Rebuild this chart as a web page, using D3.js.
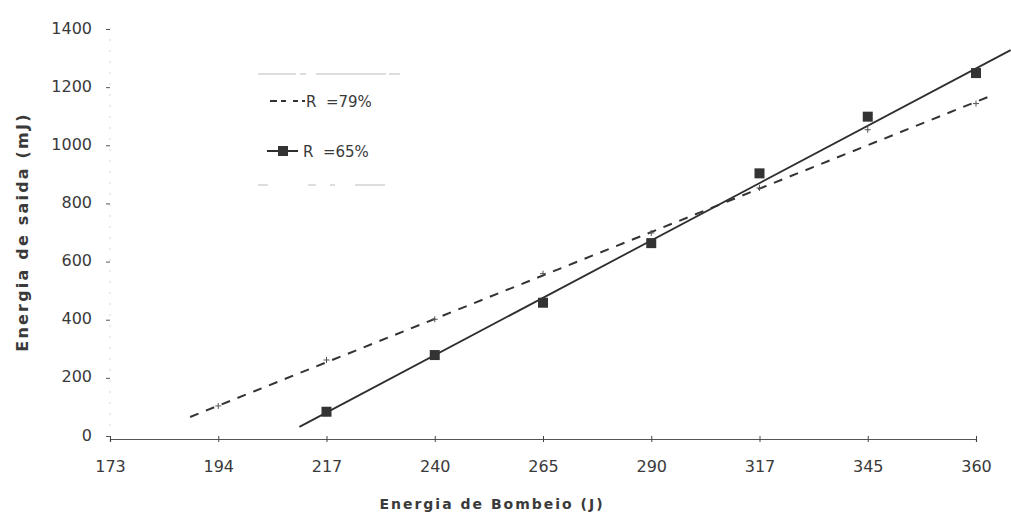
<!DOCTYPE html>
<html>
<head>
<meta charset="utf-8">
<script src="https://cdn.jsdelivr.net/npm/d3@7"></script>
<style>
  body { margin: 0; background: #fff; }
  text { font-family: "DejaVu Sans", sans-serif; fill: #3a3a3a; }
</style>
</head>
<body>
<div class="chart"></div>
<script>
// x categories (pump energy, J), evenly spaced on the axis
const bombeio = ['173', '194', '217', '240', '265', '290', '317', '345', '360'];
const yTicks = [0, 200, 400, 600, 800, 1000, 1200, 1400];

// measured points: [index into bombeio, output energy mJ]
const r65Points = [[2, 80], [3, 275], [4, 455], [5, 660], [6, 900], [7, 1095], [8, 1245]];
const r79Points = [[1, 100], [2, 258], [3, 398], [4, 555], [5, 695], [6, 850], [7, 1050], [8, 1140]];

// fitted lines, start and end as [index, mJ]
const r65Trend = [[1.75, 28], [8.32, 1324]];
const r79Trend = [[0.74, 62], [8.16, 1170]];

const width = 1011, height = 516;

const svg = d3.select('div.chart')
  .append('svg')
    .attr('width', width)
    .attr('height', height);

const x = d3.scaleLinear().domain([0, 8]).range([110, 976]);
const y = d3.scaleLinear().domain([0, 1400]).range([435, 28]);

// faint y axis line
svg.append('line')
  .attr('x1', x(0)).attr('x2', x(0))
  .attr('y1', y(1400)).attr('y2', y(0))
  .attr('stroke', '#d8d8d8')
  .attr('stroke-dasharray', '2,9');

const yAxis = d3.axisLeft(y)
  .tickValues(yTicks)
  .tickFormat(d3.format('d'))
  .tickSize(4)
  .tickPadding(14);

svg.append('g')
  .attr('class', 'y-axis')
  .attr('transform', 'translate(' + x(0) + ',0)')
  .call(yAxis)
  .call(g => g.select('.domain').remove())
  .call(g => g.selectAll('line').attr('stroke', '#555').attr('transform', 'translate(0,1)'))
  .call(g => g.selectAll('text')
    .attr('font-size', 16)
    .attr('font-family', '"DejaVu Sans", sans-serif')
    .attr('fill', '#3a3a3a'));

const xAxis = d3.axisBottom(x)
  .tickValues(d3.range(bombeio.length))
  .tickFormat(i => bombeio[i])
  .tickSize(3);

const xg = svg.append('g')
  .attr('class', 'x-axis')
  .attr('transform', 'translate(0,439)')
  .call(xAxis);

xg.select('.domain').attr('stroke', '#555').attr('stroke-width', 1.2);
xg.selectAll('.tick line').attr('y1', -3).attr('y2', 3).attr('stroke', '#444');
xg.selectAll('.tick text')
  .attr('y', 22)
  .attr('font-size', 16)
  .attr('font-family', '"DejaVu Sans", sans-serif')
  .attr('fill', '#3a3a3a');

const line = d3.line()
  .x(d => x(d[0]))
  .y(d => y(d[1]));

// R = 79% : dashed fit with small cross markers
svg.append('path')
  .attr('d', line(r79Trend))
  .attr('fill', 'none')
  .attr('stroke', '#333')
  .attr('stroke-width', 2)
  .attr('stroke-dasharray', '9,8');

svg.selectAll('path.r79-mark')
  .data(r79Points)
  .enter()
  .append('path')
    .attr('class', 'r79-mark')
    .attr('d', d => {
      const px = x(d[0]), py = y(d[1]);
      return 'M' + (px - 3) + ',' + py + 'H' + (px + 3) + 'M' + px + ',' + (py - 3) + 'V' + (py + 3);
    })
    .attr('stroke', '#555')
    .attr('stroke-width', 1);

// R = 65% : solid fit with square markers
svg.append('path')
  .attr('d', line(r65Trend))
  .attr('fill', 'none')
  .attr('stroke', '#2e2e2e')
  .attr('stroke-width', 1.8);

svg.selectAll('rect.r65-mark')
  .data(r65Points)
  .enter()
  .append('rect')
    .attr('class', 'r65-mark')
    .attr('x', d => x(d[0]) - 5)
    .attr('y', d => y(d[1]) - 5)
    .attr('width', 10)
    .attr('height', 10)
    .attr('fill', '#333');

// legend
const legend = svg.append('g').attr('class', 'legend');

legend.append('line')
  .attr('x1', 258).attr('x2', 400).attr('y1', 74).attr('y2', 74)
  .attr('stroke', '#bbb').attr('stroke-width', 1.2)
  .attr('stroke-dasharray', '38,4,6,10,70,3');
legend.append('line')
  .attr('x1', 258).attr('x2', 390).attr('y1', 185).attr('y2', 185)
  .attr('stroke', '#bbb').attr('stroke-width', 1.2)
  .attr('stroke-dasharray', '10,40,8,14,5,20,30');

legend.append('line')
  .attr('x1', 270).attr('x2', 305).attr('y1', 101).attr('y2', 101)
  .attr('stroke', '#333').attr('stroke-width', 2)
  .attr('stroke-dasharray', '7,4,5,7,5,4');
legend.append('text')
  .attr('x', 306).attr('y', 107)
  .attr('font-size', 15)
  .attr('xml:space', 'preserve')
  .text('R  =79%');

legend.append('line')
  .attr('x1', 267).attr('x2', 298).attr('y1', 151).attr('y2', 151)
  .attr('stroke', '#2e2e2e').attr('stroke-width', 2);
legend.append('rect')
  .attr('x', 278).attr('y', 146).attr('width', 10).attr('height', 10)
  .attr('fill', '#333');
legend.append('text')
  .attr('x', 303).attr('y', 157)
  .attr('font-size', 15)
  .attr('xml:space', 'preserve')
  .text('R  =65%');

// axis titles
svg.append('text')
  .attr('transform', 'translate(28,232) rotate(-90)')
  .attr('text-anchor', 'middle')
  .attr('font-size', 16)
  .attr('font-weight', 'bold')
  .attr('letter-spacing', 2.2)
  .text('Energia de saida (mJ)');

svg.append('text')
  .attr('x', 492).attr('y', 509)
  .attr('text-anchor', 'middle')
  .attr('font-size', 14)
  .attr('font-weight', 'bold')
  .attr('letter-spacing', 2)
  .text('Energia de Bombeio (J)');
</script>
</body>
</html>
